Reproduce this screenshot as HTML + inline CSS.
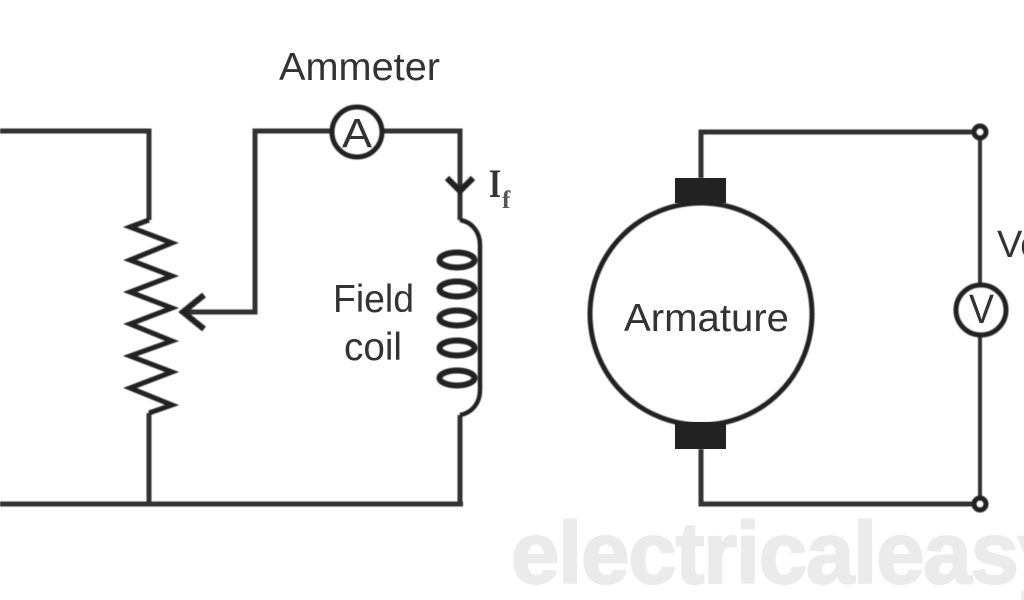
<!DOCTYPE html>
<html>
<head>
<meta charset="utf-8">
<style>
html,body{margin:0;padding:0;background:#fff;width:1024px;height:600px;overflow:hidden}
svg{display:block}
text{font-family:"Liberation Sans",sans-serif;fill:#333}
</style>
</head>
<body>
<svg width="1024" height="600" viewBox="0 0 1024 600" xmlns="http://www.w3.org/2000/svg">
<defs><filter id="b" x="-5%" y="-5%" width="110%" height="110%"><feGaussianBlur stdDeviation="0.6"/></filter></defs>
<text x="511" y="583" font-size="87" font-weight="700" textLength="555" lengthAdjust="spacing" style="fill:#ebebeb;stroke:#ebebeb;stroke-width:2">electricaleasy</text>
<g fill="none" stroke="#333" stroke-width="5" filter="url(#b)">
<path d="M0 131H149V220"/>
<path d="M149 413V504"/>
<path d="M0 504H463"/>
<path d="M331 131H255V312H186"/>
<path d="M383 131H460V220"/>
<path d="M460 415V504"/>
<path d="M701 178V132H975"/>
<path d="M701 449V504H975"/>
<path d="M980 138V284" stroke-width="4"/>
<path d="M980 336V498" stroke-width="4"/>
<g stroke="#222" stroke-width="5">
<path d="M149 220L130 227L172 243L130 260L172 276L130 292L172 308L130 324L172 341L130 356L172 372L130 388L172 405L149 413"/>
<path d="M204 295L183 312L204 329" stroke-width="6"/>
<path d="M447 178L460 191L473 178" stroke-width="6"/>
<path d="M460 220C472 222 480 232 480 245V390C480 403 472 413 460 415" stroke-width="4.5"/>
<ellipse cx="457" cy="260" rx="17.5" ry="7.5" stroke-width="6"/>
<ellipse cx="457" cy="289" rx="17.5" ry="7.5" stroke-width="6"/>
<ellipse cx="457" cy="318" rx="17.5" ry="7.5" stroke-width="6"/>
<ellipse cx="457" cy="348" rx="17.5" ry="7.5" stroke-width="6"/>
<ellipse cx="457" cy="378" rx="17.5" ry="7.5" stroke-width="6"/>
<circle cx="357" cy="132" r="25"/>
<circle cx="981" cy="310" r="25"/>
<circle cx="701" cy="314" r="111"/>
<circle cx="980" cy="132" r="6"/>
<circle cx="980" cy="504" r="6"/>
</g>
</g>
<rect x="675" y="178" width="51" height="25" fill="#222"/>
<rect x="675" y="422" width="51" height="27" fill="#222"/>
<text x="279" y="80" font-size="39" textLength="161" lengthAdjust="spacingAndGlyphs">Ammeter</text>
<text x="342" y="147" font-size="41" textLength="30" lengthAdjust="spacingAndGlyphs">A</text>
<text x="489" y="197" font-size="40" style="font-family:'Liberation Serif',serif" font-weight="700" textLength="12" lengthAdjust="spacingAndGlyphs">I</text>
<text x="502" y="208" font-size="25" font-weight="700" style="font-family:'Liberation Serif',serif;fill:#555">f</text>
<text x="333" y="312" font-size="39" textLength="81" lengthAdjust="spacingAndGlyphs">Field</text>
<text x="344" y="360" font-size="39" textLength="58" lengthAdjust="spacingAndGlyphs">coil</text>
<text x="624" y="331" font-size="39" textLength="165" lengthAdjust="spacingAndGlyphs">Armature</text>
<text x="969" y="323" font-size="41" textLength="25" lengthAdjust="spacingAndGlyphs">V</text>
<text x="997" y="257" font-size="38">Vo</text>
</svg>
</body>
</html>
